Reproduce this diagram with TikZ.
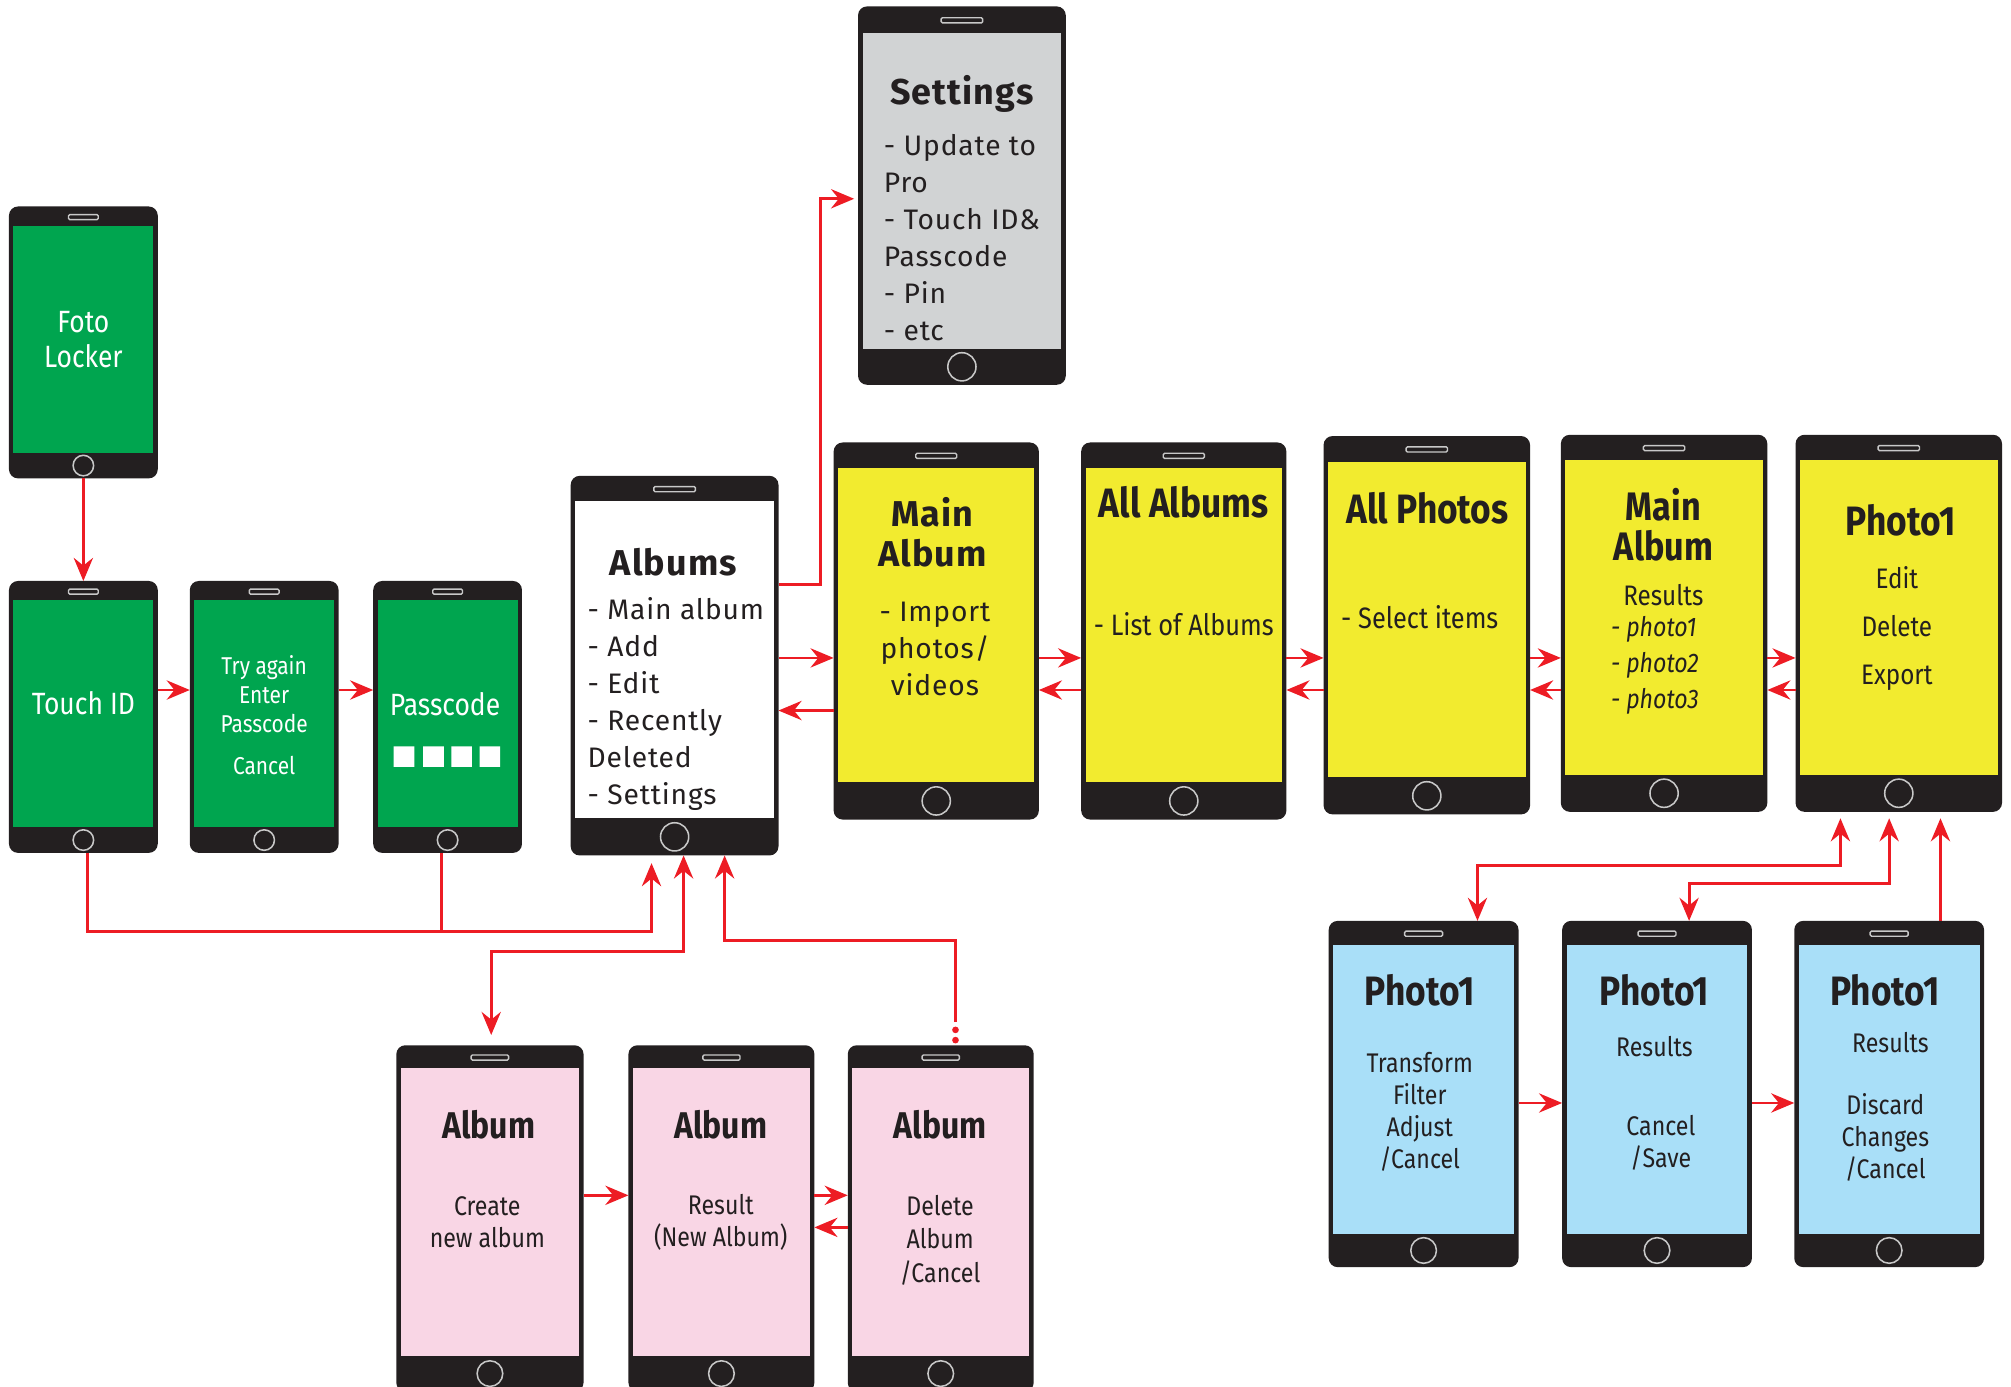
\documentclass[tikz,border=0pt]{standalone}
\usepackage{fontspec}
\setmainfont{Fira Sans}[FakeStretch=0.86]
\newfontfamily\widefont{Fira Sans}[LetterSpace=3]
\usetikzlibrary{arrows.meta,calc}
\definecolor{frame}{HTML}{231F20}
\definecolor{scrgreen}{HTML}{00A54F}
\definecolor{scryellow}{HTML}{F2EB2F}
\definecolor{scrpink}{HTML}{F9D6E5}
\definecolor{scrblue}{HTML}{A9DFF8}
\definecolor{scrgray}{HTML}{D1D3D4}
\definecolor{arrred}{HTML}{ED1C24}
\definecolor{btngray}{HTML}{C8C8C8}
\tikzset{
  phoneframe/.style={draw=none, fill=frame, rounded corners=7pt, inner sep=0pt, outer sep=0pt},
  speaker/.style={draw=btngray, line width=1.1pt, fill=frame, rounded corners=1pt},
  homebtn/.style={draw=btngray, line width=1.2pt},
  wire/.style={draw=arrred, line width=2.2pt},
  lbl/.style={inner sep=0pt, align=center, text=frame},
  wlbl/.style={lbl, text=white},
}
\newcommand{\phone}[9]{%
  \node[phoneframe, minimum width=#4pt, minimum height=#5pt] (#1) at (#2,#3) {};
  \fill[#8] ($(#1.north west)+(3.5,#6)$) rectangle ($(#1.south east)+(-3.5,-#7)$);
  \draw[speaker] ($(#1.north)+({-0.1*#4},{0.42*#6})$) rectangle ($(#1.north)+({0.1*#4},{0.42*#6+4})$);
  \draw[homebtn] ($(#1.south)+(0,{-0.5*#7})$) circle (#9pt);
}
\begin{document}
\begin{tikzpicture}[x=1pt,y=-1pt,>={Stealth[length=18pt,width=15pt,inset=6pt]}]
\useasboundingbox (0,0) rectangle (1568,1081);
% phones
\phone{fl}{65}{267}{116}{212}{15}{20}{scrgreen}{8}
\phone{tid}{65}{559}{116}{212}{15}{20}{scrgreen}{8}
\phone{try}{206}{559}{116}{212}{15}{20}{scrgreen}{8}
\phone{pc}{349}{559}{116}{212}{15}{20}{scrgreen}{8}
\phone{alb}{526}{519}{162}{296}{20}{29}{white}{11}
\phone{set}{750}{152.5}{162}{295}{21}{28}{scrgray}{11}
\phone{ma}{730}{492}{160}{294}{20}{29}{scryellow}{11}
\phone{aa}{923}{492}{160}{294}{20}{29}{scryellow}{11}
\phone{ap}{1112.5}{487.5}{161}{295}{20}{29}{scryellow}{11}
\phone{mar}{1297.5}{486}{161}{294}{20}{29}{scryellow}{11}
\phone{p1}{1480.5}{486}{161}{294}{20}{29}{scryellow}{11}
\phone{ac}{382}{950}{146}{270}{18}{28}{scrpink}{10}
\phone{ar}{562.5}{950}{145}{270}{18}{28}{scrpink}{10}
\phone{ad}{733.5}{950}{145}{270}{18}{28}{scrpink}{10}
\phone{pt}{1110}{853}{148}{270}{19}{26}{scrblue}{10}
\phone{pr}{1292}{853}{148}{270}{19}{26}{scrblue}{10}
\phone{pd}{1473}{853}{148}{270}{19}{26}{scrblue}{10}
% passcode squares
\fill[white] (307,582) rectangle ++(16,16) (330,582) rectangle ++(16,16) (352,582) rectangle ++(16,16) (374,582) rectangle ++(16,16);
% texts
\node[wlbl,font=\fontsize{24}{27}\selectfont] (fl-t) at (65,265) {Foto\\Locker};
\node[wlbl,font=\fontsize{24}{27}\selectfont] (tid-t) at (65,548) {Touch ID};
\node[wlbl,font=\fontsize{19}{22.5}\selectfont] (try-t) at (206,541) {Try again\\Enter\\Passcode};
\node[wlbl,font=\fontsize{19}{22}\selectfont] (try-c) at (206,597) {Cancel};
\node[wlbl,font=\fontsize{24}{27}\selectfont] (pc-t) at (347,549) {Passcode};
\node[lbl,font=\widefont\bfseries\fontsize{28}{31}\selectfont] (alb-t) at (525,438) {Albums};
\node[lbl,align=left,anchor=west,font=\widefont\fontsize{22}{28.8}\selectfont] (alb-l) at (458,549) {- Main album\\- Add\\- Edit\\- Recently\\Deleted\\- Settings};
\node[lbl,font=\widefont\bfseries\fontsize{28}{31}\selectfont] (set-t) at (750,73) {Settings};
\node[lbl,align=left,anchor=west,font=\widefont\fontsize{22}{28.8}\selectfont] (set-l) at (689,185) {- Update to\\Pro\\- Touch ID\&\\Passcode\\- Pin\\- etc};
\node[lbl,font=\widefont\bfseries\fontsize{28}{31}\selectfont] (ma-t) at (727,415) {Main\\Album};
\node[lbl,font=\widefont\fontsize{22}{29}\selectfont] (ma-l) at (729,506) {- Import\\photos/\\videos};
\node[lbl,font=\bfseries\fontsize{32}{31}\selectfont] (aa-t) at (923,392) {All Albums};
\node[lbl,font=\fontsize{23}{26}\selectfont] (aa-l) at (923,487) {- List of Albums};
\node[lbl,font=\bfseries\fontsize{32}{31}\selectfont] (ap-t) at (1113,396) {All Photos};
\node[lbl,font=\fontsize{23}{26}\selectfont] (ap-l) at (1107,481) {- Select items};
\node[lbl,font=\bfseries\fontsize{31}{31}\selectfont] (mar-t) at (1297,409) {Main\\Album};
\node[lbl,font=\fontsize{22}{26}\selectfont] (mar-r) at (1297,464) {Results};
\node[lbl,align=left,anchor=west,font=\itshape\fontsize{21}{28}\selectfont] (mar-l) at (1256,519) {- photo1\\- photo2\\- photo3};
\node[lbl,font=\bfseries\fontsize{32}{31}\selectfont] (p1-t) at (1482,406) {Photo1};
\node[lbl,font=\fontsize{22}{37.5}\selectfont] (p1-l) at (1479,490) {Edit\\Delete\\Export};
\node[lbl,font=\bfseries\fontsize{32}{31}\selectfont] (pt-t) at (1107,772) {Photo1};
\node[lbl,font=\fontsize{21}{25}\selectfont] (pt-l) at (1107,867) {Transform\\Filter\\Adjust\\/Cancel};
\node[lbl,font=\bfseries\fontsize{32}{31}\selectfont] (pr-t) at (1290,772) {Photo1};
\node[lbl,font=\fontsize{21}{25}\selectfont] (pr-r) at (1290,816) {Results};
\node[lbl,font=\fontsize{21}{25}\selectfont] (pr-l) at (1295,891) {Cancel\\/Save};
\node[lbl,font=\bfseries\fontsize{32}{31}\selectfont] (pd-t) at (1470,772) {Photo1};
\node[lbl,font=\fontsize{21}{25}\selectfont] (pd-r) at (1474,813) {Results};
\node[lbl,font=\fontsize{21}{25}\selectfont] (pd-l) at (1470,887) {Discard\\Changes\\/Cancel};
\node[lbl,font=\bfseries\fontsize{29}{31}\selectfont] (ac-t) at (381,877) {Album};
\node[lbl,font=\fontsize{21}{25}\selectfont] (ac-l) at (380,953) {Create\\new album};
\node[lbl,font=\bfseries\fontsize{29}{31}\selectfont] (ar-t) at (562,877) {Album};
\node[lbl,font=\fontsize{21}{25}\selectfont] (ar-l) at (562,953) {Result\\(New Album)};
\node[lbl,font=\bfseries\fontsize{29}{31}\selectfont] (ad-t) at (733,877) {Album};
\node[lbl,font=\fontsize{21}{26}\selectfont] (ad-l) at (733,967) {Delete\\Album\\/Cancel};
% connectors
\draw[wire,->] (fl.south) -- (tid.north);
\draw[wire,->] (tid.east |- 0,538) -- (try.west |- 0,538);
\draw[wire,->] (try.east |- 0,538) -- (pc.west |- 0,538);
\draw[wire,->,shorten >=6pt] (tid.south -| 68,0) -- (68,726) -- (508,726) -- (alb.south -| 508,0);
\draw[wire] (pc.south -| 344,0) -- (344,726);
\draw[wire,<->,shorten <=8pt] (ac.north -| 383,0) -- (383,742) -- (533,742) -- (alb.south -| 533,0);
\coordinate (dotend) at (745,797);
\draw[wire,->] (dotend) -- (745,733) -- (565,733) -- (alb.south -| 565,0);
\fill[arrred] (745,803) circle (2.6pt) (745,811) circle (2.6pt);
\draw[wire,->,shorten >=3pt] (alb.east |- 0,456) -- (640,456) -- (640,155) -- (set.west |- 0,155);
\draw[wire,->] (alb.east |- 0,513) -- (ma.west |- 0,513);
\draw[wire,->] (ma.west |- 0,554) -- (alb.east |- 0,554);
\draw[wire,->] (ma.east |- 0,513) -- (aa.west |- 0,513);
\draw[wire,->] (aa.west |- 0,538) -- (ma.east |- 0,538);
\draw[wire,->] (aa.east |- 0,513) -- (ap.west |- 0,513);
\draw[wire,->] (ap.west |- 0,538) -- (aa.east |- 0,538);
\draw[wire,->] (ap.east |- 0,513) -- (mar.west |- 0,513);
\draw[wire,->] (mar.west |- 0,538) -- (ap.east |- 0,538);
\draw[wire,->] (mar.east |- 0,513) -- (p1.west |- 0,513);
\draw[wire,->] (p1.west |- 0,538) -- (mar.east |- 0,538);
\draw[wire,<->,shorten >=5pt] (pt.north -| 1152,0) -- (1152,675) -- (1435,675) -- (p1.south -| 1435,0);
\draw[wire,<->,shorten >=5pt] (pr.north -| 1317,0) -- (1317,689) -- (1473,689) -- (p1.south -| 1473,0);
\draw[wire,->,shorten >=5pt] (pd.north -| 1513,0) -- (p1.south -| 1513,0);
\draw[wire,->] (pt.east |- 0,860) -- (pr.west |- 0,860);
\draw[wire,->] (pr.east |- 0,860) -- (pd.west |- 0,860);
\draw[wire,->] (ac.east |- 0,932) -- (ar.west |- 0,932);
\draw[wire,->] (ar.east |- 0,932) -- (ad.west |- 0,932);
\draw[wire,->] (ad.west |- 0,957) -- (ar.east |- 0,957);
\end{tikzpicture}
\end{document}
